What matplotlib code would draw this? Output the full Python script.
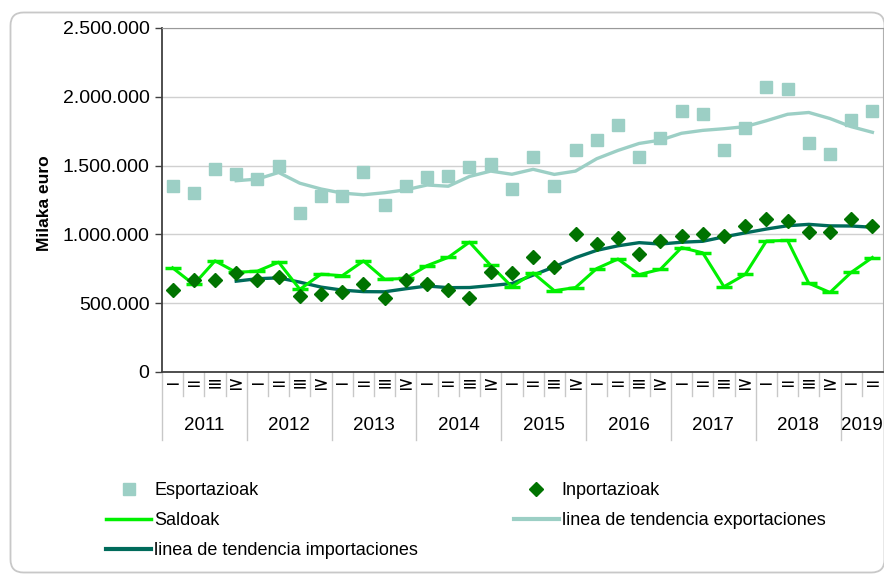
import numpy as np
import matplotlib
matplotlib.use('Agg')
import matplotlib.pyplot as plt
from matplotlib.patches import FancyBboxPatch
from matplotlib.lines import Line2D
from matplotlib.transforms import IdentityTransform

plt.rcParams['font.family'] = ['Liberation Sans', 'DejaVu Sans']

# quarterly data 2011 Q1 .. 2019 Q2 (milaka euro)
years = ['2011', '2012', '2013', '2014', '2015', '2016', '2017', '2018', '2019']
quarters_in_year = [4, 4, 4, 4, 4, 4, 4, 4, 2]
quarter_marks = ['−', '=', '≡', '≥']

esportazioak = [1353000, 1302000, 1476000, 1438000, 1401000, 1498000, 1154000, 1278000,
                1278000, 1450000, 1217000, 1353000, 1414000, 1425000, 1487000, 1513000,
                1327000, 1561000, 1353000, 1612000, 1685000, 1796000, 1561000, 1700000,
                1894000, 1872000, 1612000, 1772000, 2068000, 2056000, 1661000, 1585000,
                1833000, 1894000]
inportazioak = [594000, 667000, 667000, 720000, 667000, 691000, 553000, 565000,
                582000, 643000, 541000, 667000, 643000, 594000, 541000, 727000,
                716000, 836000, 764000, 1001000, 929000, 975000, 854000, 953000,
                989000, 1001000, 987000, 1062000, 1110000, 1098000, 1014000, 1014000,
                1110000, 1062000]
saldoak = [757000, 636000, 808000, 724000, 733000, 798000, 601000, 711000,
           700000, 807000, 674000, 680000, 773000, 833000, 944000, 775000,
           620000, 720000, 591000, 614000, 752000, 821000, 708000, 746000,
           904000, 866000, 620000, 709000, 952000, 956000, 645000, 578000,
           724000, 832000]
# 4-quarter trend lines (start at 2011 Q4)
tend_exp = [np.nan, np.nan, np.nan, 1390000, 1402000, 1450000, 1372000, 1330000,
            1300000, 1288000, 1303000, 1324000, 1359000, 1350000, 1421000, 1460000,
            1437000, 1473000, 1436000, 1460000, 1550000, 1610000, 1661000, 1685000,
            1735000, 1756000, 1768000, 1783000, 1826000, 1873000, 1886000, 1842000,
            1783000, 1742000]
tend_imp = [np.nan, np.nan, np.nan, 660000, 678000, 684000, 653000, 617000,
            595000, 584000, 583000, 605000, 625000, 613000, 614000, 628000,
            643000, 704000, 764000, 831000, 884000, 917000, 940000, 930000,
            943000, 950000, 982000, 1011000, 1039000, 1063000, 1073000, 1062000,
            1061000, 1052000]

y_ticks = [0, 500000, 1000000, 1500000, 2000000, 2500000]
y_tick_labels = ['0', '500.000', '1.000.000', '1.500.000', '2.000.000', '2.500.000']

W, H = 884, 574
fig = plt.figure(figsize=(W / 100, H / 100), dpi=100)

# rounded chart frame (pixel coords)
frame = FancyBboxPatch((10.5, 1.5), 874, 560,
                       boxstyle='round,pad=0,rounding_size=13',
                       transform=IdentityTransform(), fc='none', ec='#c8c8c8', lw=1.3,
                       zorder=-5)
fig.patches.append(frame)

L, R, T, B = 162, 883, 28, 372
ax = fig.add_axes([L / W, (H - B) / H, (R - L) / W, (B - T) / H])

x = np.arange(len(esportazioak))
n = len(x)

ax.plot(x, esportazioak, ls='none', marker='s', ms=8, color='#9ccfc5', zorder=3)
ax.plot(x, inportazioak, ls='none', marker='D', ms=7.5, color='#007300', zorder=4)
ax.plot(x, saldoak, color='#00f000', lw=2.2, marker='_', ms=11, mew=2.5, zorder=3)
ax.plot(x, tend_exp, color='#9ccfc5', lw=2.4, zorder=2)
ax.plot(x, tend_imp, color='#006b5b', lw=2.4, zorder=2)

ax.set_xlim(-0.5, n - 0.5)
ax.set_ylim(0, 2500000)
ax.set_yticks(y_ticks)
ax.set_yticklabels(y_tick_labels, fontsize=14)
ax.yaxis.grid(True, color='#d0d0d0', lw=1)
ax.set_axisbelow(True)
ax.tick_params(axis='y', length=5, width=1, color='#404040', pad=4)
ax.set_xticks([])
ax.spines['right'].set_color('#b0b0b0')
ax.spines['top'].set_color('#999999')
ax.spines['left'].set_color('#404040')
ax.spines['left'].set_linewidth(1.3)
ax.spines['bottom'].set_color('#404040')
ax.spines['bottom'].set_linewidth(1.3)

ax.set_ylabel('Milaka euro', fontsize=12.5, fontweight='bold')
ax.yaxis.set_label_coords(-0.153, 0.49)

# two-level category axis
trans = ax.get_xaxis_transform()
i = 0
for yr, nq in zip(years, quarters_in_year):
    ax.plot([i - 0.5, i - 0.5], [0, -0.198], transform=trans, color='#c8c8c8',
            lw=1, clip_on=False)
    for q in range(nq):
        if q > 0:
            ax.plot([i + q - 0.5, i + q - 0.5], [0, -0.07], transform=trans,
                    color='#c8c8c8', lw=1, clip_on=False)
        ax.text(i + q, -0.035, quarter_marks[q], transform=trans, ha='center',
                va='center', fontsize=13.5, family=['DejaVu Sans'])
    ax.text(i + (nq - 1) / 2, -0.155, yr, transform=trans, ha='center',
            va='center', fontsize=13.5)
    i += nq

# legend
h_exp = Line2D([], [], ls='none', marker='s', ms=8, color='#9ccfc5')
h_imp = Line2D([], [], ls='none', marker='D', ms=7.5, color='#007300')
h_sal = Line2D([], [], color='#00f000', lw=2.5)
h_te = Line2D([], [], color='#9ccfc5', lw=3)
h_ti = Line2D([], [], color='#006b5b', lw=3)
fig.legend([h_exp, h_sal, h_ti, h_imp, h_te],
           ['Esportazioak', 'Saldoak', 'linea de tendencia importaciones',
            'Inportazioak', 'linea de tendencia exportaciones'],
           ncol=2, loc='upper left', bbox_to_anchor=(90 / W, 1 - 466 / H),
           frameon=False, fontsize=13, handlelength=2.5, handletextpad=0.15,
           labelspacing=0.72, columnspacing=5.3)

fig.savefig('out.png', dpi=100)
